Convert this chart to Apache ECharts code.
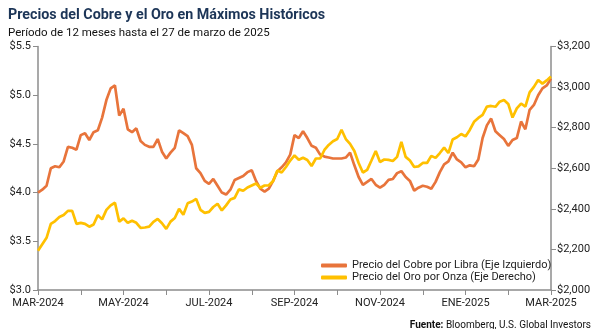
<!DOCTYPE html>
<html>
<head>
<meta charset="utf-8">
<script src="https://cdn.jsdelivr.net/npm/echarts@6/dist/echarts.min.js"></script>
<style>
  html, body { margin: 0; padding: 0; background: #fff; }
  #chart { width: 600px; height: 329px; }
</style>
</head>
<body>
<div id="chart"></div>
<script>
// Month tick labels shown every two months along the bottom axis
const monthLabels = ["MAR-2024", "MAY-2024", "JUL-2024", "SEP-2024", "NOV-2024", "ENE-2025", "MAR-2025"];

// Samples per month on the category axis (10 per month, 12 months -> 121 points)
const perMonth = 10;

// Copper price, USD per pound (left axis)
const copper = [
  4.00, 4.03, 4.07, 4.25, 4.27, 4.26, 4.32, 4.47, 4.46, 4.44,
  4.59, 4.61, 4.54, 4.62, 4.64, 4.77, 4.95, 5.07, 5.10, 4.79,
  4.86, 4.65, 4.62, 4.66, 4.53, 4.49, 4.47, 4.47, 4.55, 4.42,
  4.35, 4.41, 4.46, 4.64, 4.61, 4.58, 4.49, 4.25, 4.20, 4.12,
  4.09, 4.14, 4.07, 4.00, 3.98, 4.03, 4.13, 4.15, 4.17, 4.21,
  4.23, 4.12, 4.04, 4.01, 4.04, 4.12, 4.22, 4.26, 4.31, 4.39,
  4.59, 4.56, 4.63, 4.56, 4.48, 4.46, 4.39, 4.37, 4.36, 4.35,
  4.35, 4.35, 4.36, 4.41, 4.28, 4.16, 4.08, 4.11, 4.14, 4.08,
  4.05, 4.08, 4.13, 4.14, 4.20, 4.22, 4.16, 4.12, 4.02, 4.05,
  4.07, 4.06, 4.04, 4.11, 4.21, 4.29, 4.32, 4.41, 4.34, 4.31,
  4.26, 4.28, 4.27, 4.34, 4.56, 4.69, 4.76, 4.63, 4.59, 4.55,
  4.48, 4.54, 4.56, 4.73, 4.65, 4.85, 4.90, 5.00, 5.07, 5.10,
  5.17
];

// Gold price, USD per ounce (right axis)
const gold = [
  2193, 2225, 2257, 2326, 2340, 2360, 2370, 2390, 2390, 2326,
  2331, 2326, 2312, 2323, 2369, 2348, 2395, 2417, 2430, 2337,
  2353, 2331, 2341, 2331, 2306, 2308, 2312, 2336, 2350, 2329,
  2301, 2337, 2355, 2400, 2371, 2427, 2436, 2449, 2395, 2380,
  2385, 2409, 2425, 2392, 2417, 2446, 2454, 2496, 2489, 2505,
  2515, 2525, 2504, 2515, 2516, 2537, 2589, 2579, 2606, 2638,
  2663, 2642, 2652, 2641, 2611, 2648, 2648, 2690, 2715, 2733,
  2744, 2790, 2744, 2720, 2685, 2626, 2579, 2592, 2638, 2685,
  2631, 2643, 2641, 2636, 2656, 2730, 2656, 2638, 2606, 2609,
  2626, 2626, 2661, 2651, 2675, 2702, 2675, 2742, 2753, 2769,
  2757, 2789, 2829, 2848, 2863, 2904, 2907, 2903, 2928, 2936,
  2917, 2850, 2895, 2919, 2904, 2974, 3001, 3035, 3017, 3033,
  3052
];

const categories = copper.map((_, i) => String(i));

const axisGray = '#8c8c8c';
const textDark = '#222';
const fontFam = 'Roboto, "Liberation Sans", Arial, sans-serif';

const chart = echarts.init(document.getElementById('chart'), null, { renderer: 'canvas' });

chart.setOption({
  animation: false,
  backgroundColor: '#ffffff',
  textStyle: { fontFamily: fontFam },
  title: [
    {
      text: 'Precios del Cobre y el Oro en Máximos Históricos',
      left: 3, top: 3,
      textStyle: { fontSize: 14.3, fontWeight: 'bold', color: '#1c3557', fontFamily: fontFam }
    },
    {
      text: 'Período de 12 meses hasta el 27 de marzo de 2025',
      left: 3, top: 22,
      textStyle: { fontSize: 11.5, fontWeight: 'normal', color: '#111', fontFamily: fontFam }
    },
    {
      text: '{b|Fuente:} {n|Bloomberg, U.S. Global Investors}',
      right: 4, top: 315,
      textStyle: {
        fontSize: 10, fontWeight: 'normal', color: '#111', fontFamily: fontFam,
        rich: {
          b: { fontWeight: 'bold', fontSize: 10, color: '#111', fontFamily: fontFam },
          n: { fontWeight: 'normal', fontSize: 10, color: '#111', fontFamily: fontFam }
        }
      }
    }
  ],
  legend: {
    orient: 'vertical',
    left: 316, top: 255,
    itemWidth: 26, itemHeight: 4, itemGap: 1,
    icon: 'roundRect',
    textStyle: { fontSize: 11, color: textDark, fontFamily: fontFam },
    data: ['Precio del Cobre por Libra (Eje Izquierdo)', 'Precio del Oro por Onza (Eje Derecho)']
  },
  grid: { left: 38, right: 49, top: 46.5, bottom: 39, containLabel: false },
  xAxis: {
    type: 'category',
    data: categories,
    boundaryGap: false,
    axisLine: { lineStyle: { color: axisGray, width: 1.5 } },
    axisTick: { show: true, interval: perMonth - 1, length: 5, lineStyle: { color: axisGray, width: 1 } },
    axisLabel: {
      interval: perMonth * 2 - 1,
      margin: 8,
      fontSize: 11,
      color: textDark,
      fontFamily: fontFam,
      formatter: (v, idx) => monthLabels[Math.round(idx / (perMonth * 2))] || ''
    },
    splitLine: { show: false }
  },
  yAxis: [
    {
      type: 'value',
      min: 3, max: 5.5, interval: 0.5,
      position: 'left',
      axisLine: { show: true, lineStyle: { color: axisGray, width: 1.5 } },
      axisTick: { show: true, length: 5, lineStyle: { color: axisGray } },
      axisLabel: { fontSize: 11, color: textDark, margin: 7, fontFamily: fontFam, formatter: v => '$' + v.toFixed(1) },
      splitLine: { show: false }
    },
    {
      type: 'value',
      min: 2000, max: 3200, interval: 200,
      position: 'right',
      axisLine: { show: true, lineStyle: { color: axisGray, width: 1.5 } },
      axisTick: { show: true, length: 5, lineStyle: { color: axisGray } },
      axisLabel: { fontSize: 11, color: textDark, margin: 6, fontFamily: fontFam,
        formatter: v => '$' + v.toLocaleString('en-US') },
      splitLine: { show: false }
    }
  ],
  series: [
    {
      name: 'Precio del Cobre por Libra (Eje Izquierdo)',
      type: 'line',
      yAxisIndex: 0,
      data: copper,
      showSymbol: false,
      smooth: false,
      lineStyle: { color: '#e8743b', width: 2.7 },
      itemStyle: { color: '#e8743b' }
    },
    {
      name: 'Precio del Oro por Onza (Eje Derecho)',
      type: 'line',
      yAxisIndex: 1,
      data: gold,
      showSymbol: false,
      smooth: false,
      lineStyle: { color: '#ffc000', width: 2.7 },
      itemStyle: { color: '#ffc000' }
    }
  ]
});
</script>
</body>
</html>
